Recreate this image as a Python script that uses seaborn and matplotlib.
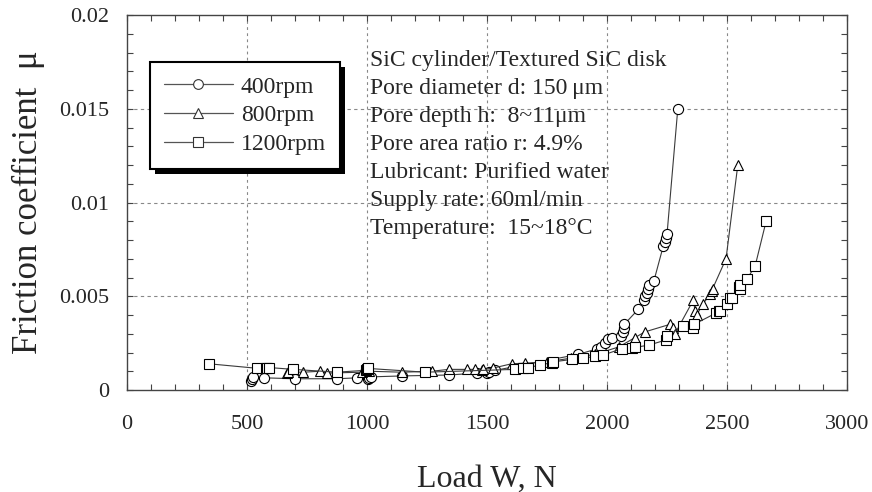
import matplotlib
matplotlib.use("Agg")
import matplotlib.pyplot as plt
import matplotlib.patheffects as pe
from matplotlib.ticker import MultipleLocator, FuncFormatter
from matplotlib.lines import Line2D
import seaborn as sns
import pandas as pd

# ---- data ----
load_400 = [515, 520, 525, 570, 700, 875, 960, 1005, 1010, 1015, 1145, 1340, 1460, 1500,
            1510, 1535, 1880, 1960, 1975, 1990, 2005, 2020, 2060, 2065, 2070, 2072, 2130,
            2155, 2160, 2165, 2170, 2175, 2195, 2235, 2240, 2245, 2250, 2295]
mu_400 = [0.0005, 0.0006, 0.0007, 0.00065, 0.0006, 0.0006, 0.00065, 0.0006, 0.00065, 0.0007,
          0.00075, 0.0008, 0.0009, 0.0009, 0.00095, 0.00105, 0.0019, 0.0022, 0.0023, 0.0025,
          0.0027, 0.0028, 0.0029, 0.0031, 0.0033, 0.0035, 0.0043, 0.0048, 0.0050, 0.0052,
          0.0054, 0.0056, 0.0058, 0.0077, 0.0079, 0.0081, 0.0083, 0.0150]

load_800 = [665, 670, 735, 805, 832, 978, 1010, 1145, 1270, 1340, 1415, 1450, 1480, 1485,
            1526, 1603, 1658, 1750, 1850, 1950, 2050, 2117, 2158, 2262, 2274, 2283, 2360,
            2367, 2374, 2400, 2430, 2436, 2440, 2496, 2545]
mu_800 = [0.0009, 0.00095, 0.00095, 0.0010, 0.0009, 0.00095, 0.0010, 0.00095, 0.0010, 0.0011,
          0.0011, 0.0011, 0.00105, 0.0011, 0.00117, 0.0014, 0.00143, 0.0015, 0.0017, 0.0019,
          0.0023, 0.0028, 0.0031, 0.0035, 0.0033, 0.0030, 0.0048, 0.0042, 0.0040, 0.0046,
          0.0051, 0.0053, 0.0054, 0.0070, 0.0120]

load_1200 = [340, 540, 580, 585, 590, 693, 874, 995, 1000, 1005, 1242, 1617, 1651, 1672, 1721,
             1770, 1775, 1853, 1901, 1950, 1985, 2061, 2103, 2117, 2176, 2246, 2250, 2318,
             2360, 2362, 2454, 2465, 2471, 2499, 2512, 2520, 2548, 2554, 2556, 2582, 2617, 2663]
mu_1200 = [0.0014, 0.00116, 0.0012, 0.00115, 0.0012, 0.0011, 0.00095, 0.00105, 0.0011, 0.00115,
           0.00095, 0.0011, 0.00115, 0.0012, 0.00133, 0.00146, 0.0015, 0.00163, 0.00169, 0.0018,
           0.00187, 0.0022, 0.00225, 0.00227, 0.0024, 0.00267, 0.0029, 0.0034, 0.0033, 0.0035,
           0.0041, 0.0042, 0.0042, 0.0046, 0.0049, 0.0049, 0.0055, 0.0054, 0.0056, 0.0059,
           0.0066, 0.0090]

series_labels = ["400rpm", "800rpm", "1200rpm"]
series_markers = ["o", "^", "s"]

x_ticks = [0, 500, 1000, 1500, 2000, 2500, 3000]
y_ticks = [0, 0.005, 0.01, 0.015, 0.02]

info_lines = [
    "SiC cylinder/Textured SiC disk",
    "Pore diameter d: 150\u2009μm",
    "Pore depth h:  8~11μm",
    "Pore area ratio r: 4.9%",
    "Lubricant: Purified water",
    "Supply rate: 60ml/min",
    "Temperature:  15~18°C",
]

# ---- plotting ----
sns.set_theme(style="white")
plt.rcParams["font.family"] = ["Liberation Serif", "DejaVu Serif"]

fig = plt.figure(figsize=(8.72, 4.92), dpi=100)
ax = fig.add_axes([127 / 872, 1 - 390 / 492, 720 / 872, 375 / 492])

frames = []
for lx, ly, lab in zip([load_400, load_800, load_1200], [mu_400, mu_800, mu_1200], series_labels):
    frames.append(pd.DataFrame({"load": lx, "mu": ly, "speed": lab}))
df = pd.concat(frames, ignore_index=True)

line_col = "#3a3a3a"
for lab, mk in zip(series_labels, series_markers):
    sub = df[df["speed"] == lab]
    sns.lineplot(data=sub, x="load", y="mu", ax=ax, estimator=None, sort=False,
                 color=line_col, linewidth=0.8, marker=mk, markersize=7.3 if mk != "s" else 7.8,
                 markerfacecolor="white", markeredgecolor="black", markeredgewidth=0.8,
                 legend=False)

ax.set_xlim(0, 3000)
ax.set_ylim(0, 0.02)
ax.set_xticks(x_ticks)
ax.set_yticks(y_ticks)
ax.xaxis.set_minor_locator(MultipleLocator(100))
ax.yaxis.set_minor_locator(MultipleLocator(0.001))
ax.xaxis.set_major_formatter(FuncFormatter(lambda v, p: f"{v:g}"))
ax.yaxis.set_major_formatter(FuncFormatter(lambda v, p: f"{v:g}"))

ax.tick_params(which="both", direction="in", top=True, right=True, bottom=True, left=True,
               length=4.5, width=0.8, color="#444444", labelsize=16)
ax.tick_params(axis="x", which="major", pad=18)
ax.tick_params(axis="y", which="major", pad=13)

for s in ax.spines.values():
    s.set_color("#444444")
    s.set_linewidth(1.0)

for xv in x_ticks[1:-1]:
    ax.axvline(xv, color="#888888", lw=0.8, ls=(0, (2.5, 3)), zorder=0)
for yv in y_ticks[1:-1]:
    ax.axhline(yv, color="#888888", lw=0.8, ls=(0, (3, 3)), zorder=0)

ax.set_xlabel("Load W, N", fontsize=23, labelpad=22)
ax.set_ylabel("Friction coefficient  μ", fontsize=25, labelpad=10)

handles = [Line2D([], [], color="#555555", lw=0.9, marker=mk, markersize=7,
                  markerfacecolor="white", markeredgecolor="#333333", markeredgewidth=0.8)
           for mk in series_markers]
leg = ax.legend(handles, series_labels, loc="upper left", bbox_to_anchor=(0.032, 0.875),
                fontsize=17, frameon=True, fancybox=False, handlelength=2.9,
                handletextpad=0.35, labelspacing=0.3, borderpad=0.6, borderaxespad=0)
frame = leg.get_frame()
frame.set_edgecolor("black")
frame.set_linewidth(1.5)
frame.set_facecolor("white")
frame.set_alpha(1)
frame.set_path_effects([pe.SimplePatchShadow(offset=(3.6, -3.6), shadow_rgbFace="black", alpha=1.0),
                        pe.Normal()])

ax.text(0.338, 0.907, "\n".join(info_lines), transform=ax.transAxes, fontsize=17,
        va="top", ha="left", linespacing=1.44)

fig.savefig("out.png", dpi=100)
